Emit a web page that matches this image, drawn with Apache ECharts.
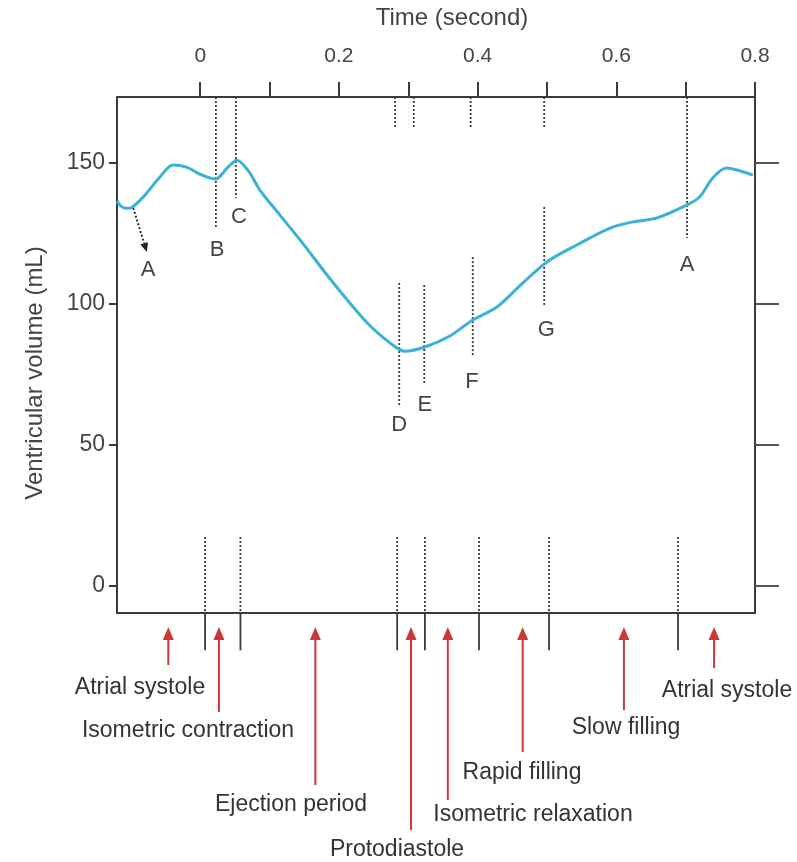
<!DOCTYPE html>
<html>
<head>
<meta charset="utf-8">
<title>Ventricular volume</title>
<script src="https://cdn.jsdelivr.net/npm/echarts@6/dist/echarts.min.js"></script>
<style>
  html, body { margin: 0; padding: 0; background: #fff; }
  #chart { width: 797px; height: 862px; }
</style>
</head>
<body>
<div id="chart"></div>
<script>
// volume curve (time in s, volume in mL)
const timeSec  = [-0.12, -0.114, -0.106, -0.098, -0.08, -0.06, -0.039, -0.02, 0.0, 0.022, 0.04, 0.053, 0.07, 0.086, 0.115, 0.144, 0.192, 0.241, 0.274, 0.295, 0.324, 0.36, 0.393, 0.428, 0.465, 0.5, 0.543, 0.591, 0.624, 0.659, 0.702, 0.72, 0.739, 0.759, 0.774, 0.797]
const volumeMl = [136.5, 134.6, 133.9, 134.3, 138.5, 144.5, 149.3, 148.5, 146, 144.3, 148.5, 151, 147, 140.4, 131.5, 122.7, 107.4, 93.2, 86.1, 83.2, 84.7, 88.6, 94.3, 98.9, 107.4, 114.9, 120.9, 126.9, 129.1, 130.5, 135.1, 137.9, 144.7, 148.2, 147.5, 145.7]

const xMin = -0.12
const xMax = 0.8
const yMin = -9.65
const yMax = 173.4
const xTicks  = [0, 0.1, 0.2, 0.3, 0.4, 0.5, 0.6, 0.7, 0.8]
const xLabels = [0, 0.2, 0.4, 0.6, 0.8]
const yTicks  = [0, 50, 100, 150]

// dotted guide lines inside the plot: [time, from mL, to mL]
const guideLines = [
  [0.0226, yMax, 127.3], [0.0514, yMax, 137.6],
  [0.281, yMax, 162.6], [0.308, yMax, 162.6], [0.390, yMax, 162.6], [0.496, yMax, 162.6],
  [0.702, yMax, 123.4],
  [0.287, 107.4, 64.1], [0.323, 106.7, 71.2], [0.393, 116.6, 81.2], [0.496, 134.4, 98.9]
]
// phase boundaries at the bottom
const boundaryTimes = [0.007, 0.058, 0.284, 0.324, 0.402, 0.503, 0.689]
const boundaryTop = 17.3
const boundaryLow = -22.9

// point letters on the curve
const pointLetters = ['A', 'B', 'C', 'D', 'E', 'F', 'G', 'A']
const pointTimes   = [-0.075, 0.0245, 0.056, 0.287, 0.324, 0.392, 0.499, 0.702]
const pointLabelMl = [112.0, 119.1, 130.8, 57.0, 64.1, 72.3, 90.7, 113.8]
// dotted arrow from the curve to the left "A"
const arrowA = [[-0.0965, 134.0], [-0.077, 118.4]]

// cardiac phases
const phaseNames = ['Atrial systole', 'Isometric contraction', 'Ejection period', 'Protodiastole', 'Isometric relaxation', 'Rapid filling', 'Slow filling', 'Atrial systole']
const phaseTimes = [-0.046, 0.027, 0.166, 0.304, 0.357, 0.465, 0.611, 0.741]
// arrow tail y and label centre (px) for each phase
const phaseLayout = [
  [665, 140, 688], [712, 188, 731], [785, 291, 805], [830, 397, 850],
  [800, 533, 815], [752, 522, 773], [710, 626, 728], [668, 727, 691]
]

const FONT = '"Liberation Sans", Arial, sans-serif'
const INK = '#3a3a3a'
const RED = '#cc3838'

const chart = echarts.init(document.getElementById('chart'))

function vLine(dash, width) {
  return function (params, api) {
    const a = api.coord([api.value(0), api.value(1)])
    const b = api.coord([api.value(0), api.value(2)])
    return {
      type: 'line',
      shape: { x1: a[0], y1: a[1], x2: b[0], y2: b[1] },
      style: { stroke: INK, lineWidth: width, lineDash: dash }
    }
  }
}

const option = {
  animation: false,
  backgroundColor: '#fff',
  grid: { left: 117, right: 42, top: 97, bottom: 249 },
  xAxis: [
    {
      type: 'value', position: 'top', min: xMin, max: xMax,
      axisLine: { show: true, onZero: false, lineStyle: { color: INK, width: 2 } },
      axisTick: { show: true, customValues: xTicks, length: 15, lineStyle: { color: INK, width: 2 } },
      axisLabel: { customValues: xLabels, margin: 30, color: '#444', fontSize: 21, fontFamily: FONT },
      splitLine: { show: false }
    },
    {
      type: 'value', position: 'bottom', min: xMin, max: xMax,
      axisLine: { show: true, onZero: false, lineStyle: { color: INK, width: 2 } },
      axisTick: { show: false }, axisLabel: { show: false }, splitLine: { show: false }
    }
  ],
  yAxis: [
    {
      type: 'value', position: 'left', min: yMin, max: yMax,
      axisLine: { show: true, onZero: false, lineStyle: { color: INK, width: 2 } },
      axisTick: { show: true, customValues: yTicks, length: 8, lineStyle: { color: INK, width: 2 } },
      axisLabel: { customValues: yTicks, margin: 12, color: '#444', fontSize: 23, fontFamily: FONT },
      splitLine: { show: false }
    },
    {
      type: 'value', position: 'right', min: yMin, max: yMax,
      axisLine: { show: true, onZero: false, lineStyle: { color: INK, width: 2 } },
      axisTick: { show: true, customValues: yTicks, length: 24, lineStyle: { color: '#555', width: 2 } },
      axisLabel: { show: false }, splitLine: { show: false }
    }
  ],
  graphic: [
    { type: 'text', x: 452, y: 18, style: { text: 'Time (second)', font: '24px ' + FONT, fill: '#444', textAlign: 'center', textVerticalAlign: 'middle' } },
    { type: 'text', x: 35, y: 373, rotation: Math.PI / 2, style: { text: 'Ventricular volume (mL)', font: '24px ' + FONT, fill: '#444', textAlign: 'center', textVerticalAlign: 'middle' } }
  ],
  series: [
    {
      type: 'custom', name: 'guides', renderItem: vLine([2, 2], 1.8),
      data: guideLines, silent: true, z: 1
    },
    {
      type: 'custom', name: 'bounds dotted', renderItem: vLine([2, 2], 1.8),
      data: boundaryTimes.map(t => [t, boundaryTop, yMin]), silent: true
    },
    {
      type: 'custom', name: 'bounds solid', renderItem: vLine(null, 1.8),
      data: boundaryTimes.map(t => [t, yMin, boundaryLow]), silent: true
    },
    {
      type: 'line', name: 'volume', data: timeSec.map((t, i) => [t, volumeMl[i]]),
      smooth: 0.3, showSymbol: false, z: 3,
      lineStyle: { color: '#3ab2d8', width: 3 }
    },
    {
      type: 'custom', name: 'letters', silent: true, z: 4,
      data: pointTimes.map((t, i) => [t, pointLabelMl[i]]),
      renderItem: function (params, api) {
        const p = api.coord([api.value(0), api.value(1)])
        return {
          type: 'text', x: p[0], y: p[1],
          style: { text: pointLetters[params.dataIndex], font: '22px ' + FONT, fill: '#444', textAlign: 'center', textVerticalAlign: 'middle' }
        }
      }
    },
    {
      type: 'custom', name: 'arrow A', silent: true, z: 4,
      data: [[arrowA[0][0], arrowA[0][1], arrowA[1][0], arrowA[1][1]]],
      renderItem: function (params, api) {
        const a = api.coord([api.value(0), api.value(1)])
        const b = api.coord([api.value(2), api.value(3)])
        const ang = Math.atan2(b[1] - a[1], b[0] - a[0])
        const hx = b[0] - 9 * Math.cos(ang), hy = b[1] - 9 * Math.sin(ang)
        const nx = -Math.sin(ang) * 4, ny = Math.cos(ang) * 4
        return {
          type: 'group',
          children: [
            { type: 'line', shape: { x1: a[0], y1: a[1], x2: hx, y2: hy }, style: { stroke: '#222', lineWidth: 1.8, lineDash: [2, 2] } },
            { type: 'polygon', shape: { points: [[b[0], b[1]], [hx + nx, hy + ny], [hx - nx, hy - ny]] }, style: { fill: '#222' } }
          ]
        }
      }
    },
    {
      type: 'custom', name: 'phases', silent: true, z: 4,
      data: phaseTimes.map(t => [t, yMin]),
      renderItem: function (params, api) {
        const i = params.dataIndex
        const x = api.coord([api.value(0), api.value(1)])[0]
        const tip = 627
        const lay = phaseLayout[i]
        return {
          type: 'group',
          children: [
            { type: 'line', shape: { x1: x, y1: tip + 10, x2: x, y2: lay[0] }, style: { stroke: RED, lineWidth: 2 } },
            { type: 'polygon', shape: { points: [[x, tip], [x - 5.5, tip + 13], [x + 5.5, tip + 13]] }, style: { fill: RED } },
            { type: 'text', x: lay[1], y: lay[2], style: { text: phaseNames[i], font: '23px ' + FONT, fill: '#333', textAlign: 'center', textVerticalAlign: 'middle' } }
          ]
        }
      }
    }
  ]
}

chart.setOption(option)
</script>
</body>
</html>
